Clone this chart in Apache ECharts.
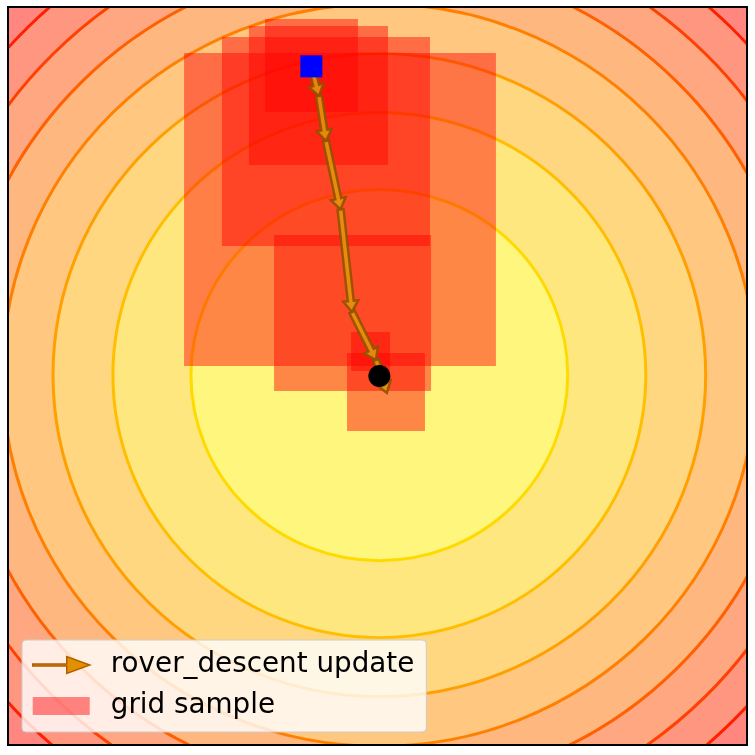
<!DOCTYPE html>
<html>
<head>
<meta charset="utf-8">
<style>
  html, body { margin: 0; padding: 0; background: #fff; }
  #chart { width: 755px; height: 755px; }
</style>
<script src="https://cdn.jsdelivr.net/npm/echarts@6/dist/echarts.min.js"></script>
</head>
<body>
<div id="chart"></div>
<script>
  // objective f(x, y) ~ x^2 + y^2, contour levels (outermost band first)
  const fillLevels = [8.31, 7.27, 6.23, 5.19, 4.16, 3.12, 2.08, 1.04]
  const lineLevels = [7.27, 6.23, 5.19, 4.16, 3.12, 2.08, 1.04]
  const center = [0.01, 0.005]

  // rover_descent iterates
  const pathX = [-0.358, -0.317, -0.279, -0.200, -0.138, -0.008, 0.051]
  const pathY = [1.701, 1.538, 1.291, 0.915, 0.352, 0.088, -0.093]
  const startPoint = [-0.358, 1.701]
  const endPoint = [0.01, 0.0]

  // grid sample boxes
  const boxXMin = [-1.047, -0.842, -0.696, -0.609, -0.560, -0.143, -0.165]
  const boxXMax = [0.641, 0.284, 0.057, -0.106, 0.290, 0.068, 0.257]
  const boxYMin = [0.055, 0.714, 1.159, 1.450, -0.082, 0.027, -0.302]
  const boxYMax = [1.774, 1.862, 1.923, 1.961, 0.775, 0.242, 0.126]

  // autumn_r colours, fill at half alpha over white (outermost first)
  const fillColors = ['#FF8780', '#FF9780', '#FFA780', '#FFB780', '#FFC780', '#FFD780', '#FFE780', '#FFF67E']
  const lineColors = ['#FF2000', '#FF4000', '#FF6000', '#FF8000', '#FF9F00', '#FFBF00', '#FFDA00']
  const arrowFill = '#E3950A'
  const arrowEdge = '#945000'

  const fillData = fillLevels.map(l => [center[0], center[1], l])
  const lineData = lineLevels.map(l => [center[0], center[1], l])
  const segData = []
  for (let i = 0; i < pathX.length - 1; i++) {
    segData.push([pathX[i], pathY[i], pathX[i + 1], pathY[i + 1]])
  }
  const boxData = boxXMin.map((v, i) => [v, boxXMax[i], boxYMin[i], boxYMax[i]])

  // level set of the bowl: an ellipse in pixels (x and y scales differ a little)
  function renderRing(params, api, style) {
    const c = api.coord([api.value(0), api.value(1)])
    const s = Math.sqrt(api.value(2))
    const size = api.size([s, s])
    return {
      type: 'circle',
      x: c[0],
      y: c[1],
      scaleY: size[1] / size[0],
      shape: { cx: 0, cy: 0, r: size[0] },
      style: style,
    }
  }

  function renderFill(params, api) {
    return renderRing(params, api, { fill: fillColors[params.dataIndex] })
  }

  function renderLine(params, api) {
    return renderRing(params, api, { fill: null, stroke: lineColors[params.dataIndex], lineWidth: 3 })
  }

  function renderBox(params, api) {
    const p0 = api.coord([api.value(0), api.value(3)])
    const p1 = api.coord([api.value(1), api.value(2)])
    return {
      type: 'rect',
      shape: { x: p0[0], y: p0[1], width: p1[0] - p0[0], height: p1[1] - p0[1] },
      style: { fill: 'rgba(255,0,0,0.45)' },
    }
  }

  function renderArrow(params, api) {
    const p0 = api.coord([api.value(0), api.value(1)])
    const p1 = api.coord([api.value(2), api.value(3)])
    const dx = p1[0] - p0[0]
    const dy = p1[1] - p0[1]
    const len = Math.sqrt(dx * dx + dy * dy)
    const ux = dx / len
    const uy = dy / len
    const nx = -uy
    const ny = ux
    const hs = 3
    const hh = 7.5
    const hl = 11
    const bx = p1[0] - ux * hl
    const by = p1[1] - uy * hl
    const pts = [
      [p0[0] + nx * hs, p0[1] + ny * hs],
      [bx + nx * hs, by + ny * hs],
      [bx + nx * hh, by + ny * hh],
      [p1[0], p1[1]],
      [bx - nx * hh, by - ny * hh],
      [bx - nx * hs, by - ny * hs],
      [p0[0] - nx * hs, p0[1] - ny * hs],
    ]
    return {
      type: 'polygon',
      shape: { points: pts },
      style: { fill: arrowFill, stroke: arrowEdge, lineWidth: 2.5, lineJoin: 'miter', opacity: 0.9 },
    }
  }

  const chart = echarts.init(document.getElementById('chart'))
  chart.setOption({
    animation: false,
    textStyle: { fontFamily: 'DejaVu Sans' },
    grid: {
      left: 8,
      top: 7,
      right: 8,
      bottom: 10,
      show: true,
      z: 50,
      backgroundColor: 'transparent',
      borderColor: '#000',
      borderWidth: 2,
    },
    xAxis: { type: 'value', min: -2, max: 2, show: false },
    yAxis: { type: 'value', min: -2.027, max: 2.027, show: false },
    legend: {
      orient: 'vertical',
      left: 22,
      top: 640,
      z: 20,
      selectedMode: false,
      itemWidth: 57,
      itemHeight: 18,
      itemGap: 11,
      padding: [10, 12, 11, 10],
      borderRadius: 4,
      borderColor: '#cccccc',
      borderWidth: 1,
      backgroundColor: 'rgba(255,255,255,0.8)',
      textStyle: {
        fontFamily: 'DejaVu Sans',
        fontSize: 27.8,
        color: '#000',
        lineHeight: 30,
        padding: [0, 0, 0, 16],
      },
      data: [
        {
          name: 'rover_descent update',
          icon: 'path://M0,7.5 L34,7.5 L34,0 L57,8.5 L34,17 L34,9.5 L0,9.5 Z',
          itemStyle: { color: '#E39000', borderColor: '#B05E00', borderWidth: 1.5, opacity: 1 },
        },
        {
          name: 'grid sample',
          icon: 'rect',
          itemStyle: { color: 'rgba(255,0,0,0.45)', borderWidth: 0, opacity: 1 },
        },
      ],
    },
    series: [
      {
        name: 'contour fill',
        type: 'custom',
        clip: true,
        silent: true,
        z: 1,
        renderItem: renderFill,
        encode: { x: 0, y: 1 },
        data: fillData,
      },
      {
        name: 'contour lines',
        type: 'custom',
        clip: true,
        silent: true,
        z: 2,
        renderItem: renderLine,
        encode: { x: 0, y: 1 },
        data: lineData,
      },
      {
        name: 'grid sample',
        type: 'custom',
        clip: true,
        z: 3,
        itemStyle: { color: 'rgba(255,0,0,0.45)' },
        renderItem: renderBox,
        encode: { x: [0, 1], y: [2, 3] },
        data: boxData,
      },
      {
        name: 'rover_descent update',
        type: 'custom',
        clip: true,
        z: 4,
        itemStyle: { color: arrowFill },
        renderItem: renderArrow,
        encode: { x: [0, 2], y: [1, 3] },
        data: segData,
      },
      {
        name: 'start',
        type: 'scatter',
        z: 5,
        symbol: 'rect',
        symbolSize: 22,
        itemStyle: { color: '#0000FF', opacity: 1 },
        data: [startPoint],
      },
      {
        name: 'end',
        type: 'scatter',
        z: 6,
        symbol: 'circle',
        symbolSize: 22,
        itemStyle: { color: '#000000', opacity: 1 },
        data: [endPoint],
      },
    ],
  })
</script>
</body>
</html>
